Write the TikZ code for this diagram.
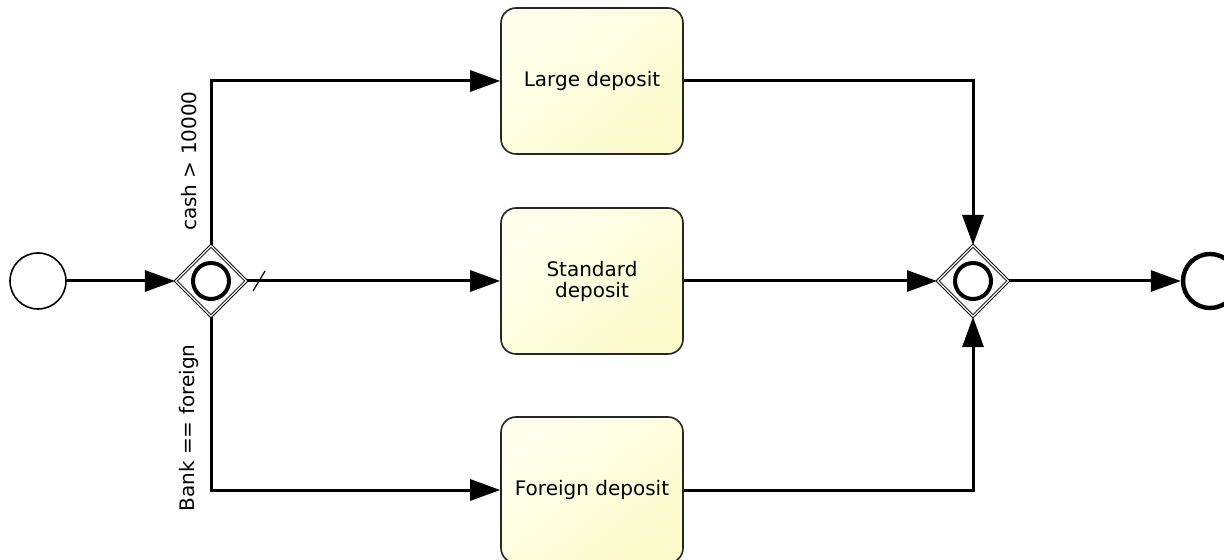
\documentclass[tikz,border=0pt]{standalone}
\usepackage{fontspec}
\setmainfont{DejaVu Sans}
\usetikzlibrary{shapes.geometric,arrows.meta}

\tikzset{
	task/.style={rectangle, rounded corners=7.5pt, draw=black!85, line width=0.8pt,
		top color={rgb,255:red,255;green,255;blue,238}, bottom color={rgb,255:red,251;green,251;blue,204},
		shading angle=40, minimum width=91pt, minimum height=73pt,
		align=center, font=\fontsize{10}{10.5}\selectfont},
	gateway/.style={diamond, draw=black, line width=0.5pt, double=white, double distance=0.6pt,
		minimum width=35.5pt, minimum height=35.5pt, inner sep=0pt},
	flow/.style={line width=1.5pt, -{Triangle[length=15pt,width=10.5pt]}},
	cond/.style={rotate=90, font=\fontsize{10}{12}\selectfont}
}

\begin{document}
\begin{tikzpicture}[x=0.5pt, y=-0.5pt]
	\useasboundingbox (0,0) rectangle (1224,560);

	% events and gateways
	\node[circle, draw, line width=0.8pt, minimum size=28pt, inner sep=0pt] (start) at (38,281) {};
	\node[gateway] (split) at (211,281) {};
	\draw[line width=2pt] (split.center) circle (9pt);
	\node[gateway] (merge) at (973,281) {};
	\draw[line width=2pt] (merge.center) circle (9pt);
	\node[circle, draw, line width=2.2pt, minimum size=27pt, inner sep=0pt] (end) at (1210,281) {};

	% tasks
	\node[task] (large) at (592,81) {Large deposit};
	\node[task] (standard) at (592,281) {Standard\\deposit};
	\node[task] (foreign) at (592,490) {Foreign deposit};

	% flows
	\draw[flow] (start) -- (split);
	\draw[flow] (split) |- (large);
	\draw[flow] (split) -- (standard);
	\draw[flow] (split) |- (foreign);
	\draw[flow] (large) -| (merge);
	\draw[flow] (standard) -- (merge);
	\draw[flow] (foreign) -| (merge);
	\draw[flow] (merge) -- (end);

	% default marker and conditions
	\coordinate (dflt) at (259,281);
	\draw[line width=0.6pt] (dflt) ++(-6,10) -- ++(12,-20);
	\node[cond] (c1) at (189,161) {cash > 10000};
	\node[cond] (c2) at (189,428) {Bank == foreign};
\end{tikzpicture}
\end{document}
